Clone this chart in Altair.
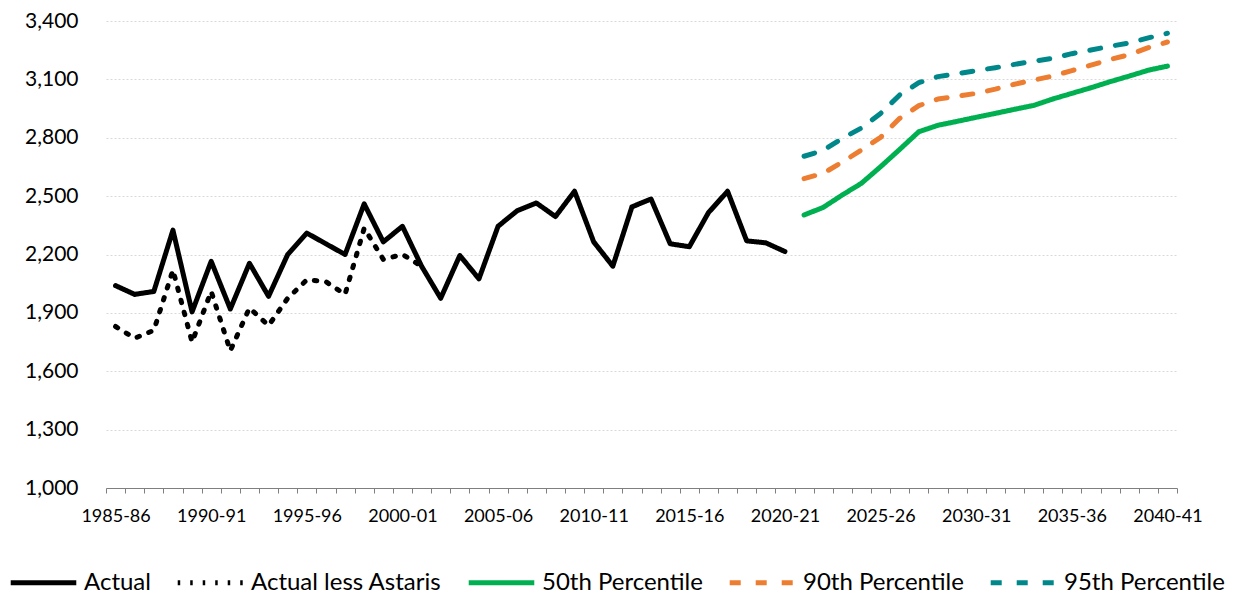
import json
import altair as alt
import pandas as pd

years = [f"{y}-{str(y + 1)[-2:]}" for y in range(1985, 2041)]

actual = [2040, 1995, 2010, 2325, 1905, 2165, 1920, 2155, 1985, 2200, 2310, 2255,
          2200, 2460, 2265, 2345, 2140, 1975, 2195, 2075, 2345, 2425, 2465, 2395,
          2525, 2265, 2140, 2445, 2485, 2255, 2240, 2415, 2525, 2270, 2260, 2215]
less_astaris = [1830, 1770, 1810, 2120, 1750, 2010, 1705, 1925, 1835, 1975, 2070,
                2060, 1995, 2335, 2175, 2200, 2140]
p50 = [2403, 2442, 2506, 2566, 2651, 2740, 2831, 2864, 2884, 2905, 2925, 2946,
       2966, 2999, 3028, 3057, 3088, 3117, 3147, 3168]
p90 = [2590, 2617, 2675, 2737, 2802, 2900, 2965, 2999, 3013, 3028, 3050, 3075,
       3096, 3117, 3145, 3173, 3202, 3227, 3263, 3292]
p95 = [2705, 2735, 2797, 2850, 2925, 3020, 3083, 3114, 3129, 3145, 3160, 3177,
       3193, 3208, 3232, 3251, 3270, 3287, 3313, 3337]

series_names = ["Actual", "Actual less Astaris", "50th Percentile",
                "90th Percentile", "95th Percentile"]
series_colors = ["#000000", "#000000", "#00B050", "#ED7D31", "#00878A"]
series_dash = [[1, 0], [2.5, 10], [1, 0], [11, 15], [11, 15]]
y_ticks = [1000, 1300, 1600, 1900, 2200, 2500, 2800, 3100, 3400]
label_every = 5

rows = []
for name, vals, start in [
    ("Actual", actual, 0),
    ("Actual less Astaris", less_astaris, 0),
    ("50th Percentile", p50, 36),
    ("90th Percentile", p90, 36),
    ("95th Percentile", p95, 36),
]:
    for i, v in enumerate(vals):
        rows.append({"idx": start + i, "year": years[start + i], "series": name,
                     "value": v})
df = pd.DataFrame(rows)

n = len(years)
PLOT_W = 1071
band = PLOT_W / n
boundaries = [k - 0.5 for k in range(n + 1)]
years_js = json.dumps(years)
label_expr = (f"((datum.value + 0.5) % {label_every} == 0 && datum.value < {n - 1}) "
              f"? {years_js}[datum.value + 0.5] : ''")

FONT = "Lato"

legend = alt.Legend(
    title=None,
    orient="none",
    legendX=-98,
    legendY=526,
    direction="horizontal",
    symbolType="stroke",
    symbolSize=4300,
    symbolStrokeWidth=5,
    labelFontSize=24,
    labelFont=FONT,
    labelColor="#000000",
    labelLimit=400,
    labelOffset=5,
    columnPadding=16,
)

chart = alt.Chart(df).mark_line(
    strokeWidth=5, strokeCap="round", strokeJoin="round"
).encode(
    x=alt.X(
        "idx:Q",
        scale=alt.Scale(domain=[-0.5, n - 0.5], nice=False, zero=False),
        axis=alt.Axis(
            title=None,
            values=boundaries,
            labelExpr=label_expr,
            labelOffset=band / 2,
            labelAngle=0,
            labelOverlap=False,
            labelFlush=False,
            labelBound=False,
            labelFontSize=18,
            labelFont=FONT,
            labelColor="#000000",
            labelPadding=14,
            domainColor="#7f7f7f",
            tickColor="#7f7f7f",
            tickSize=5,
            grid=False,
        ),
    ),
    y=alt.Y(
        "value:Q",
        scale=alt.Scale(domain=[1000, 3400], nice=False, zero=False),
        axis=alt.Axis(
            title=None,
            values=y_ticks,
            format=",d",
            domain=False,
            ticks=False,
            labelFontSize=21,
            labelFont=FONT,
            labelColor="#000000",
            labelPadding=28,
            gridColor="#d9d9d9",
            gridDash=[2, 2],
        ),
    ),
    color=alt.Color("series:N", scale=alt.Scale(domain=series_names, range=series_colors),
                    legend=legend),
    strokeDash=alt.StrokeDash("series:N",
                              scale=alt.Scale(domain=series_names, range=series_dash),
                              legend=legend),
).properties(
    width=PLOT_W,
    height=467,
    autosize=alt.AutoSizeParams(type="none"),
    padding={"left": 106, "top": 21, "right": 57, "bottom": 108},
).configure_view(stroke=None)

chart.save("out.html", embed_options={"renderer": "svg", "actions": False})
